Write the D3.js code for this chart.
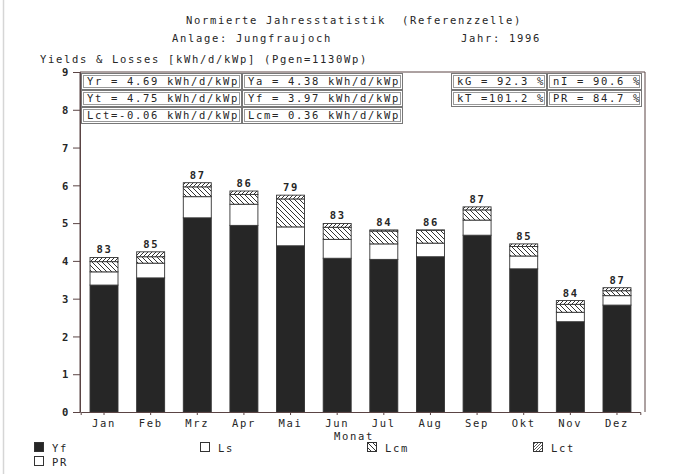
<!DOCTYPE html>
<html><head><meta charset="utf-8">
<script src="https://cdn.jsdelivr.net/npm/d3@7"></script>
<style>
body{margin:0;background:#fff;}
svg text{font-family:"DejaVu Sans Mono",monospace;font-size:10.5px;letter-spacing:1.68px;fill:#262626;}
</style></head><body>
<svg id="chart" width="679" height="474"></svg>
<script>
// Monthly normalised yields and losses [kWh/d/kWp]
const months = ["Jan","Feb","Mrz","Apr","Mai","Jun","Jul","Aug","Sep","Okt","Nov","Dez"];
const yf  = [3.36, 3.55, 5.14, 4.94, 4.40, 4.07, 4.04, 4.11, 4.68, 3.79, 2.39, 2.83];
const ls  = [0.35, 0.39, 0.56, 0.56, 0.50, 0.50, 0.41, 0.36, 0.40, 0.34, 0.25, 0.25];
const lcm = [0.27, 0.17, 0.26, 0.26, 0.74, 0.32, 0.34, 0.34, 0.27, 0.25, 0.21, 0.13];
const lct = [0.11, 0.13, 0.11, 0.09, 0.10, 0.10, 0.03, 0.01, 0.08, 0.07, 0.10, 0.08];
const pr  = [83, 85, 87, 86, 79, 83, 84, 86, 87, 85, 84, 87];
const yTicks = [0,1,2,3,4,5,6,7,8,9];

// Annual summary boxes
const statsLeft = [
  ["Yr = 4.69 kWh/d/kWp", "Ya = 4.38 kWh/d/kWp"],
  ["Yt = 4.75 kWh/d/kWp", "Yf = 3.97 kWh/d/kWp"],
  ["Lct=-0.06 kWh/d/kWp", "Lcm= 0.36 kWh/d/kWp"]
];
const statsRight = [
  ["kG = 92.3 %", "nI = 90.6 %"],
  ["kT =101.2 %", "PR = 84.7 %"]
];

const legendItems = [
  {key:"yf", label:"Yf"}, {key:"ls", label:"Ls"},
  {key:"lcm", label:"Lcm"}, {key:"lct", label:"Lct"}, {key:"pr", label:"PR"}
];

const svg = d3.select("#chart");
const ink = "#262626", frame = "#5a4444";

// hatch patterns
const defs = svg.append("defs");
function hatch(id, d, size, sw){
  const p = defs.append("pattern").attr("id", id).attr("patternUnits","userSpaceOnUse")
    .attr("width", size).attr("height", size);
  p.append("rect").attr("width", size).attr("height", size).attr("fill","#fff");
  p.append("path").attr("d", d).attr("stroke", "#333").attr("stroke-width", sw).attr("fill","none");
}
hatch("hLcm", "M0,0 L5,5 M-1,4 L1,6 M4,-1 L6,1", 5, 1);
hatch("hLct", "M0,4 L4,0 M-1,1 L1,-1 M3,5 L5,3", 4, 1);
hatch("hLctKey", "M0,3 L3,0 M-1,1 L1,-1 M2,4 L4,2", 3, 0.8);
const fills = {yf:"#262626", ls:"#fff", lcm:"url(#hLcm)", lct:"url(#hLct)", pr:"#fff"};
const keyFills = Object.assign({}, fills, {lct:"url(#hLctKey)"});

// scan edge
svg.append("line").attr("x1",3.5).attr("x2",3.5).attr("y1",0).attr("y2",474)
  .attr("stroke","#d6d6d6").attr("stroke-width",1.5);

// headings
svg.append("text").attr("x",186).attr("y",24).attr("xml:space","preserve")
  .text("Normierte Jahresstatistik  (Referenzzelle)");
svg.append("text").attr("x",172).attr("y",42).text("Anlage: Jungfraujoch");
svg.append("text").attr("x",461).attr("y",42).text("Jahr: 1996");
svg.append("text").attr("x",40).attr("y",63).text("Yields & Losses [kWh/d/kWp] (Pgen=1130Wp)");

// scales
const x = d3.scaleBand().domain(months).range([80.7, 640.3]).paddingInner(0.4).paddingOuter(0.2);
const y = d3.scaleLinear().domain([0, 9]).range([412, 72]);

// stacked bars
const table = months.map((m,i)=>({month:m, yf:yf[i], ls:ls[i], lcm:lcm[i], lct:lct[i], pr:pr[i]}));
const series = d3.stack().keys(["yf","ls","lcm","lct"])(table);

svg.append("g").selectAll("g").data(series).join("g")
  .attr("fill", d => fills[d.key])
  .selectAll("rect").data(d => d).join("rect")
  .attr("x", d => x(d.data.month))
  .attr("width", x.bandwidth())
  .attr("y", d => y(d[1]))
  .attr("height", d => y(d[0]) - y(d[1]))
  .attr("stroke", "#333").attr("stroke-width", 0.9);

// PR labels above bars
svg.append("g").selectAll("text").data(table).join("text")
  .attr("x", d => x(d.month) + x.bandwidth()/2 + 0.5)
  .attr("y", d => y(d.yf + d.ls + d.lcm + d.lct) - 4)
  .attr("text-anchor","middle")
  .style("font-weight","bold")
  .text(d => d.pr);

// frame
svg.append("path")
  .attr("d", `M80,412 V72 H645 V412`)
  .attr("fill","none").attr("stroke", frame).attr("stroke-width",1);

// axes
const yAxis = svg.append("g").attr("transform","translate(80,0)")
  .call(d3.axisLeft(y).tickValues(yTicks).tickSize(7).tickPadding(3).tickFormat(d3.format("d")));
const xAxis = svg.append("g").attr("transform","translate(0,412)")
  .call(d3.axisBottom(x).tickSize(3).tickPadding(6));
[yAxis, xAxis].forEach(a => {
  a.select(".domain").attr("stroke", frame);
  a.selectAll(".tick line").attr("stroke", frame);
  a.selectAll("text").attr("font-family", null).attr("font-size", null).attr("fill", ink);
});
yAxis.selectAll("text").style("font-weight","bold").attr("dy","0.35em");
xAxis.selectAll("text").attr("dy","0.6em");

svg.append("text").attr("x",354).attr("y",440).attr("text-anchor","middle").text("Monat");

// summary boxes
function box(x0, y0, w, h, label){
  const g = svg.append("g");
  g.append("rect").attr("x",x0+0.5).attr("y",y0+0.5).attr("width",w).attr("height",h)
    .attr("fill","#fff").attr("stroke","#777");
  g.append("rect").attr("x",x0+2.5).attr("y",y0+2.5).attr("width",w-4).attr("height",h-4)
    .attr("fill","none").attr("stroke","#999");
  g.append("text").attr("x",x0+6).attr("y",y0+h-4).text(label);
}
statsLeft.forEach((row, r) => {
  box(81, 73 + r*17, 160, 16, row[0]);
  box(242, 73 + r*17, 160, 16, row[1]);
});
statsRight.forEach((row, r) => {
  box(451, 73 + r*17, 95, 16, row[0]);
  box(547, 73 + r*17, 94, 16, row[1]);
});

// legend
const legPos = {yf:[34,442], ls:[200,442], lcm:[367,442], lct:[533,442], pr:[34,456]};
const lg = svg.append("g").selectAll("g").data(legendItems).join("g")
  .attr("transform", d => `translate(${legPos[d.key][0]},${legPos[d.key][1]})`);
lg.append("rect").attr("x",0.5).attr("y",0.5).attr("width",9).attr("height",9)
  .attr("fill", d => keyFills[d.key]).attr("stroke","#333");
lg.append("text").attr("x",18).attr("y",9.5).text(d => d.label);
</script>
</body></html>
